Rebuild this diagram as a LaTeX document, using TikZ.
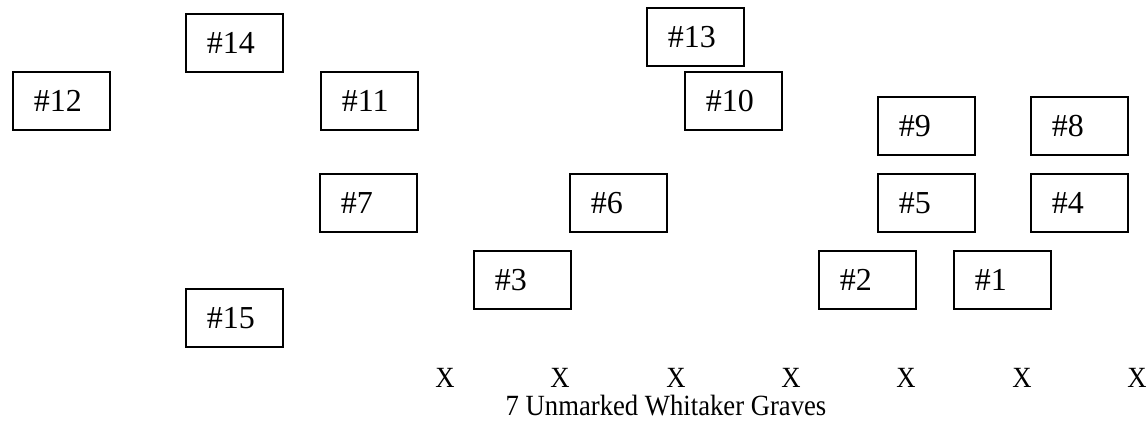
\documentclass[tikz,border=0pt]{standalone}
\usepackage{fontspec}
\setmainfont{Liberation Serif}

\tikzset{
    stone/.style={draw, line width=1.3pt, anchor=north west, inner xsep=15.75pt,
        text width=41.25pt, align=left, minimum height=43.5pt,
        font=\fontsize{24}{24}\selectfont},
    xmark/.style={anchor=base, yscale=1.1, font=\fontsize{20}{20}\selectfont},
}

\begin{document}
\begin{tikzpicture}[x=0.75pt, y=-0.75pt]
    \useasboundingbox (0,0) rectangle (1148,422);

    % marked graves
    \node [stone] (s14) at (185,13) {\#14};
    \node [stone] (s13) at (646,7) {\#13};
    \node [stone] (s12) at (12,71) {\#12};
    \node [stone] (s11) at (320,71) {\#11};
    \node [stone] (s10) at (684,71) {\#10};
    \node [stone] (s9) at (877,96) {\#9};
    \node [stone] (s8) at (1030,96) {\#8};
    \node [stone] (s7) at (319,173) {\#7};
    \node [stone] (s6) at (569,173) {\#6};
    \node [stone] (s5) at (877,173) {\#5};
    \node [stone] (s4) at (1030,173) {\#4};
    \node [stone] (s3) at (473,250) {\#3};
    \node [stone] (s2) at (818,250) {\#2};
    \node [stone] (s1) at (953,250) {\#1};
    \node [stone] (s15) at (185,288) {\#15};

    % unmarked graves
    \foreach \i/\x in {1/445, 2/560, 3/676, 4/791, 5/906, 6/1022, 7/1137}
        \node [xmark] (u\i) at (\x,387) {X};
    \node [xmark] (cap) at (666,415) {7 Unmarked Whitaker Graves};
\end{tikzpicture}
\end{document}
